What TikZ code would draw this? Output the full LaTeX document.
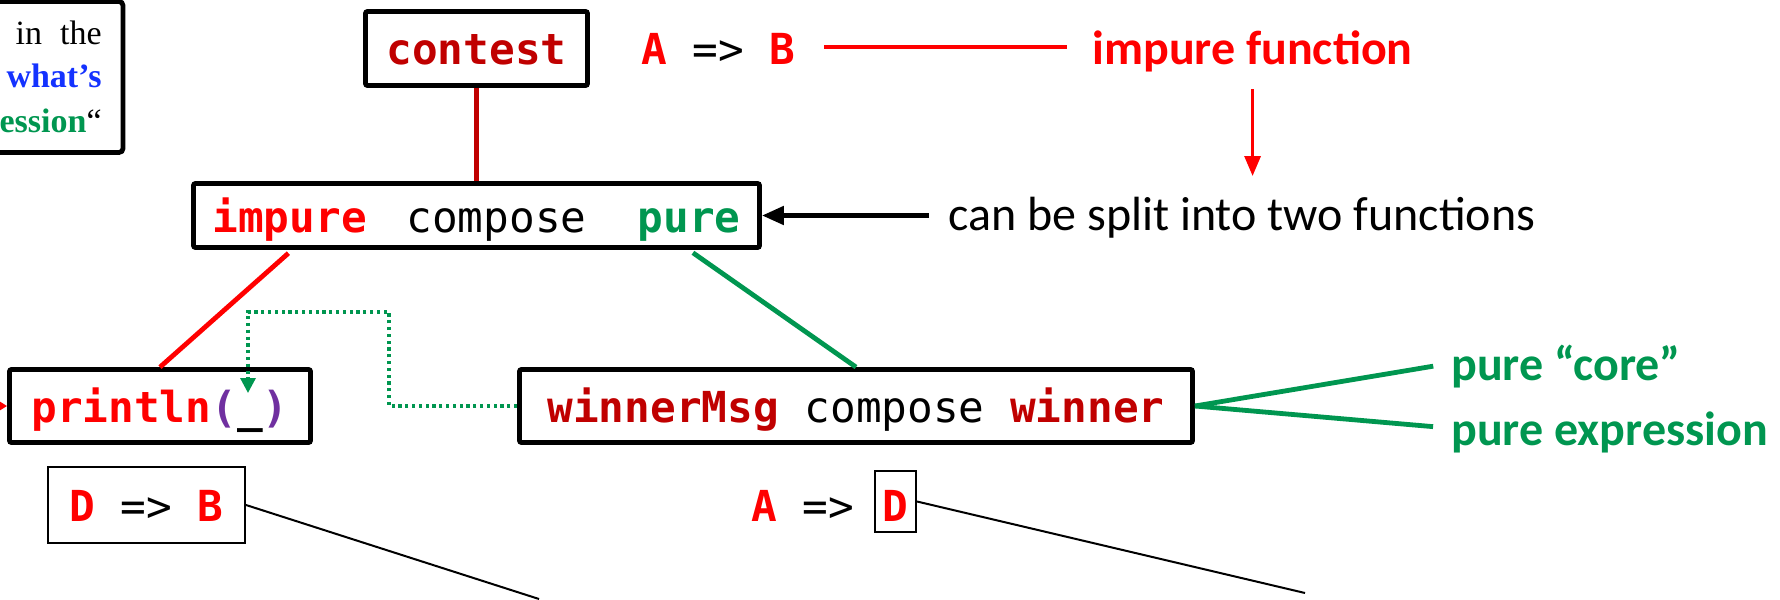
\documentclass[tikz,border=0pt]{standalone}
\usepackage{fontspec}
\setmonofont{DejaVu Sans Mono}
\newfontfamily\calfont{Carlito}
\newfontfamily\notefont{Liberation Serif}
\usetikzlibrary{arrows.meta,calc}
\definecolor{hotred}{RGB}{255,0,0}
\definecolor{darkred}{RGB}{192,0,0}
\definecolor{puregreen}{RGB}{0,150,80}
\definecolor{parenpurple}{RGB}{112,48,160}
\definecolor{notblue}{RGB}{20,50,255}
\newcommand{\codesize}{\fontsize{21.35pt}{26pt}\selectfont}
\newcommand{\lblsize}{\fontsize{24pt}{29pt}\selectfont}
\newcommand{\notesize}{\fontsize{17pt}{22pt}\selectfont}

\begin{document}
\begin{tikzpicture}[x=0.5pt,y=-0.5pt,
    codebox/.style={draw,line width=2.4pt,rounded corners=1pt,inner sep=0pt,
      font=\ttfamily\bfseries\codesize,text height=16.5pt,text depth=0pt},
    thinbox/.style={codebox,line width=1pt,rounded corners=0pt},
    lbl/.style={inner sep=0pt,anchor=base west,font=\calfont\lblsize,
      text height=16.8pt,text depth=0pt},
    note/.style={inner sep=0pt,anchor=base east,font=\notefont\notesize}]
  \useasboundingbox (0,0) rectangle (1780,599);

  \node[draw,line width=2.4pt,rounded corners=2pt,minimum width=91.5pt,minimum height=75.5pt] (notebox) at (31.5,77) {};
  \node[note] (noteA) at (102,45) {in\hspace{9pt}the};
  \node[note,text=notblue] (noteB) at (102,88) {\bfseries what’s};
  \node[note] (noteC) at (102,133) {\textcolor{puregreen}{\bfseries ession}“};

  \node[codebox,minimum width=111pt,minimum height=37pt] (contest) at (476.5,48.5) {\textcolor{darkred}{contest}};
  \node[inner sep=0pt,anchor=base west,font=\ttfamily\bfseries\codesize,text height=18pt,text depth=0pt] (sig) at (641,65)
    {\textcolor{hotred}{A} {\mdseries =>} \textcolor{hotred}{B}};
  \node[lbl,font=\calfont\bfseries\lblsize,text=hotred] (impfun) at (1092,65) {impure function};
  \node[lbl] (split) at (948,230) {can be split into two functions};

  \node[codebox,minimum width=283pt,minimum height=32pt] (compose) at (476.5,215.5)
    {\textcolor{hotred}{impure}\hspace{0.93em}{\mdseries compose}\hspace{1.2em}\textcolor{puregreen}{pure}};
  \node[codebox,minimum width=150.5pt,minimum height=36.5pt] (println) at (160,406)
    {\textcolor{hotred}{println}\textcolor{parenpurple}{(}\_\textcolor{parenpurple}{)}};
  \node[codebox,minimum width=336.5pt,minimum height=36.5pt] (winner) at (856,406)
    {\textcolor{darkred}{winnerMsg} {\mdseries compose} \textcolor{darkred}{winner}};
  \node[lbl,font=\calfont\bfseries\lblsize,text=puregreen] (core) at (1451,380) {pure “core”};
  \node[lbl,font=\calfont\bfseries\lblsize,text=puregreen] (pexpr) at (1451,445) {pure expression};

  \node[thinbox,minimum width=98.5pt,minimum height=38pt] (dsig) at (146.5,505)
    {\textcolor{hotred}{D} {\mdseries =>} \textcolor{hotred}{B}};
  \node[inner sep=0pt,anchor=base west,font=\ttfamily\bfseries\codesize] (asig) at (751,521)
    {\textcolor{hotred}{A} {\mdseries =>}};
  \node[thinbox,minimum width=20.5pt,minimum height=30.5pt,text height=19.5pt] (dslot) at (895.5,501.5)
    {\textcolor{hotred}{D}};

  \coordinate (feed) at (-30,406);
  \coordinate (slot) at (248,393);
  \coordinate (bend) at (389,312);
  \coordinate (tailB) at (539,599);
  \coordinate (tailD) at (1305,593);

  \draw[hotred,line width=2.4pt,shorten <=14pt,shorten >=12.5pt] (sig.east) -- (sig.east -| impfun.west);
  \draw[hotred,line width=1.6pt,-{Triangle[length=10pt,width=8pt]},shorten <=12pt,shorten >=10pt]
    (impfun.south) -- (impfun.south |- split.north);
  \draw[line width=2.4pt,-{Triangle[length=11pt,width=9pt]},shorten <=9.5pt] (compose.east -| split.west) -- (compose.east);
  \draw[darkred,line width=2.4pt] (contest.south) -- (compose.north);
  \draw[hotred,line width=2.4pt,shorten <=2.5pt] ($(compose.south west)!0.177!(compose.south east)$) -- (println.north);
  \draw[puregreen,line width=2.4pt,shorten <=2.5pt] ($(compose.south west)!0.872!(compose.south east)$) -- (winner.north);
  \draw[puregreen,line width=2.4pt,shorten >=9pt] (winner.east) -- (core.west);
  \draw[puregreen,line width=2.4pt,shorten >=9pt] (winner.east) -- (pexpr.west);
  \draw[puregreen,line width=1.6pt,dash pattern=on 1.6pt off 1.8pt,-{Triangle[length=7.5pt,width=7.5pt]}]
    (winner.west) -- (winner.west -| bend) -- (bend) -- (bend -| slot) -- (slot);
  \draw[hotred,line width=2.4pt,-{Triangle[length=6pt,width=7pt]}] (feed) -- (println.west);
  \draw[line width=1pt] (dsig.east) -- (tailB);
  \draw[line width=1pt] (dslot.east) -- (tailD);
\end{tikzpicture}
\end{document}
